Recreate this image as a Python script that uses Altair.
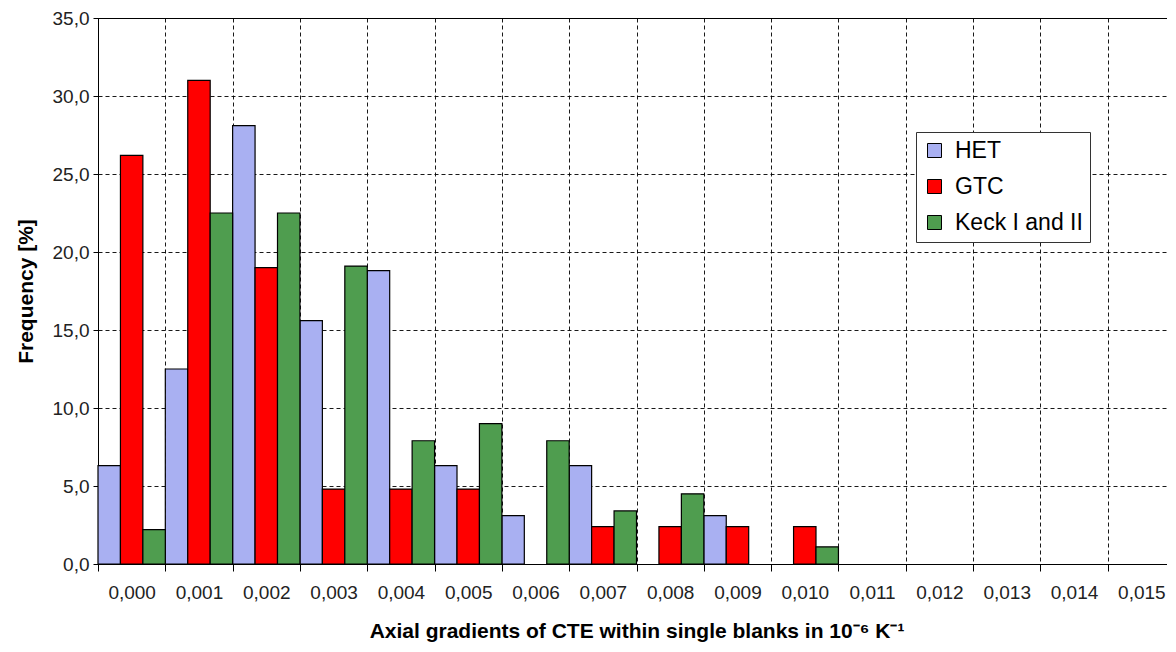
import altair as alt
import pandas as pd

categories = ["0,000", "0,001", "0,002", "0,003", "0,004", "0,005", "0,006", "0,007",
              "0,008", "0,009", "0,010", "0,011", "0,012", "0,013", "0,014", "0,015"]
series = ["HET", "GTC", "Keck I and II"]
het = [6.3, 12.5, 28.1, 15.6, 18.8, 6.3, 3.1, 6.3, 0.0, 3.1, 0.0, 0.0, 0.0, 0.0, 0.0, 0.0]
gtc = [26.2, 31.0, 19.0, 4.8, 4.8, 4.8, 0.0, 2.4, 2.4, 2.4, 2.4, 0.0, 0.0, 0.0, 0.0, 0.0]
keck = [2.2, 22.5, 22.5, 19.1, 7.9, 9.0, 7.9, 3.4, 4.5, 0.0, 1.1, 0.0, 0.0, 0.0, 0.0, 0.0]
colors = ["#a9b0f2", "#ff0000", "#4f9d4f"]
y_ticks = [0, 5, 10, 15, 20, 25, 30, 35]

rows = []
for s, vals in zip(series, [het, gtc, keck]):
    for c, v in zip(categories, vals):
        rows.append({"cat": c, "series": s, "value": v})
df = pd.DataFrame(rows)

FONT = "Liberation Sans"

chart = (
    alt.Chart(df)
    .transform_filter("datum.value > 0")
    .mark_bar(stroke="black", strokeWidth=1.2)
    .encode(
        x=alt.X(
            "cat:N",
            sort=categories,
            scale=alt.Scale(domain=categories, paddingInner=0, paddingOuter=0),
            axis=alt.Axis(
                title="Axial gradients of CTE within single blanks in 10⁻⁶ K⁻¹",
                tickBand="extent",
                grid=True,
                labelAngle=0,
                tickSize=7,
                labelPadding=12,
                titlePadding=18,
                titleFontSize=21,
            ),
        ),
        xOffset=alt.XOffset(
            "series:N",
            scale=alt.Scale(domain=series, paddingInner=0, paddingOuter=0),
        ),
        y=alt.Y(
            "value:Q",
            scale=alt.Scale(domain=[0, 35], nice=False),
            axis=alt.Axis(
                title="Frequency [%]",
                values=y_ticks,
                labelExpr="replace(format(datum.value, '.1f'), '.', ',')",
                tickSize=5,
                labelPadding=4,
                titlePadding=16,
                titleFontSize=21,
            ),
        ),
        color=alt.Color(
            "series:N",
            scale=alt.Scale(domain=series, range=colors),
            legend=alt.Legend(
                title=None,
                orient="none",
                legendX=818,
                legendY=114,
                symbolType="square",
                symbolSize=196,
                symbolStrokeColor="black",
                symbolStrokeWidth=1,
                symbolOpacity=1,
                labelFont=FONT,
                labelFontSize=23,
                labelColor="black",
                labelOffset=9,
                rowPadding=12,
                padding=7,
                fillColor="white",
                strokeColor="#333333",
            ),
        ),
    )
    .properties(
        width=1077,
        height=546,
        padding={"left": 90, "top": 10, "right": -8, "bottom": 80},
        autosize=alt.AutoSizeParams(type="none"),
    )
    .configure_view(stroke="black", strokeWidth=1)
    .configure_axis(
        gridColor="black",
        gridDash=[4, 3],
        gridWidth=1,
        gridOpacity=0.9,
        domainColor="black",
        tickColor="black",
        labelFont=FONT,
        labelFontSize=19,
        labelColor="#222222",
        titleFont=FONT,
        titleFontWeight="bold",
        titleColor="black",
    )
)

chart.save("out.html", embed_options={"renderer": "svg", "actions": False})
